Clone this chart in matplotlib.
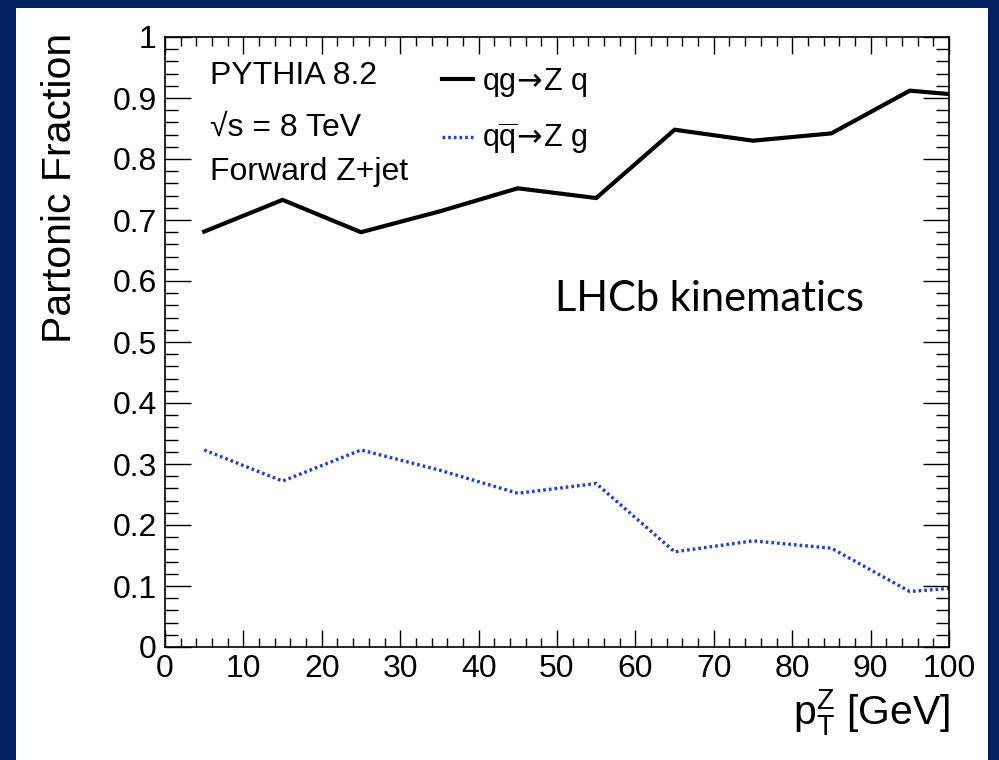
import matplotlib
matplotlib.use("Agg")
import matplotlib.pyplot as plt
from matplotlib.patches import Rectangle
from matplotlib.ticker import MultipleLocator, FuncFormatter

plt.rcParams['font.family'] = ['Liberation Sans', 'DejaVu Sans']
plt.rcParams['mathtext.fontset'] = 'custom'
plt.rcParams['mathtext.rm'] = 'Liberation Sans'
plt.rcParams['mathtext.it'] = 'Liberation Sans:italic'
plt.rcParams['mathtext.bf'] = 'Liberation Sans:bold'
plt.rcParams['mathtext.sf'] = 'DejaVu Sans'

# pT^Z bin centres (last bin runs past the axis edge)
pt_bins = [5, 15, 25, 35, 45, 55, 65, 75, 85, 95, 105]
frac_qg = [0.681, 0.733, 0.680, 0.714, 0.752, 0.736, 0.848, 0.830, 0.842, 0.912, 0.901]
frac_qqbar = [0.323, 0.272, 0.323, 0.290, 0.252, 0.268, 0.156, 0.174, 0.162, 0.091, 0.101]

label_qg = r'qg$\!\mathsf{\rightarrow}\!$Z q'
label_qqbar = r'q$\overline{\rm q}\!\mathsf{\rightarrow}\!$Z g'
x_ticks = [0, 10, 20, 30, 40, 50, 60, 70, 80, 90, 100]
y_ticks = [0, 0.1, 0.2, 0.3, 0.4, 0.5, 0.6, 0.7, 0.8, 0.9, 1.0]

W, H = 999, 760
fig = plt.figure(figsize=(W / 100, H / 100), dpi=100)
fig.patch.set_facecolor('#022163')
fig.patches.append(Rectangle((16 / W, 0), (988 - 16) / W, (H - 8) / H,
                             transform=fig.transFigure, facecolor='white',
                             edgecolor='none', zorder=-10))

L, R, T, B = 165, 949, 37, 647
ax = fig.add_axes([L / W, (H - B) / H, (R - L) / W, (B - T) / H])
ax.set_facecolor('white')
ax.set_zorder(1)

ln1, = ax.plot(pt_bins, frac_qg, color='black', lw=3.0, solid_joinstyle='miter')
ln2, = ax.plot(pt_bins, frac_qqbar, color='#1f3fd0', lw=2.4,
               linestyle=(0, (0.8, 0.9)))

ax.set_xlim(0, 100)
ax.set_ylim(0, 1)
ax.xaxis.set_minor_locator(MultipleLocator(2))
ax.yaxis.set_minor_locator(MultipleLocator(0.02))
ax.set_xticks(x_ticks)
ax.set_yticks(y_ticks)
ax.xaxis.set_major_formatter(FuncFormatter(lambda v, p: '%g' % round(v, 2)))
ax.yaxis.set_major_formatter(FuncFormatter(lambda v, p: '%g' % round(v, 2)))

for side in ax.spines.values():
    side.set_linewidth(1.2)
ax.tick_params(axis='both', which='both', direction='in', top=True, right=True,
               labelsize=23, width=1.0, colors='black')
ax.tick_params(axis='y', which='major', length=19, pad=6)
ax.tick_params(axis='y', which='minor', length=9.5)
ax.tick_params(axis='x', which='major', length=12.5, pad=5)
ax.tick_params(axis='x', which='minor', length=6.5)

# axis titles, ROOT style: aligned to the ends of the axes
fig.text(60 / W, 1 - 33 / H, 'Partonic Fraction', rotation=90, ha='center',
         va='top', fontsize=29.5)
fig.text(950 / W, 1 - 713 / H, r'p$_{\rm T}^{\rm Z}$ [GeV]', ha='right',
         va='center', fontsize=29.5)

# generator info
fig.text(210 / W, 1 - 84 / H, 'PYTHIA 8.2', ha='left', va='baseline', fontsize=23)
fig.text(210 / W, 1 - 136 / H, '√s = 8 TeV', ha='left',
         va='baseline', fontsize=23)
fig.text(210 / W, 1 - 180 / H, 'Forward Z+jet', ha='left', va='baseline', fontsize=23)

fig.text(555 / W, 1 - 299 / H, 'LHCb kinematics', ha='left', va='center',
         fontsize=30, family=['Lato', 'DejaVu Sans'])

leg = fig.legend([ln1, ln2], [label_qg, label_qqbar], loc='upper left',
                 bbox_to_anchor=(442 / W, 1 - 66 / H), frameon=False,
                 fontsize=22, handlelength=1.0, handletextpad=0.3,
                 labelspacing=0.7, borderaxespad=0, borderpad=0)

fig.savefig('out.png', dpi=100, facecolor=fig.get_facecolor())
